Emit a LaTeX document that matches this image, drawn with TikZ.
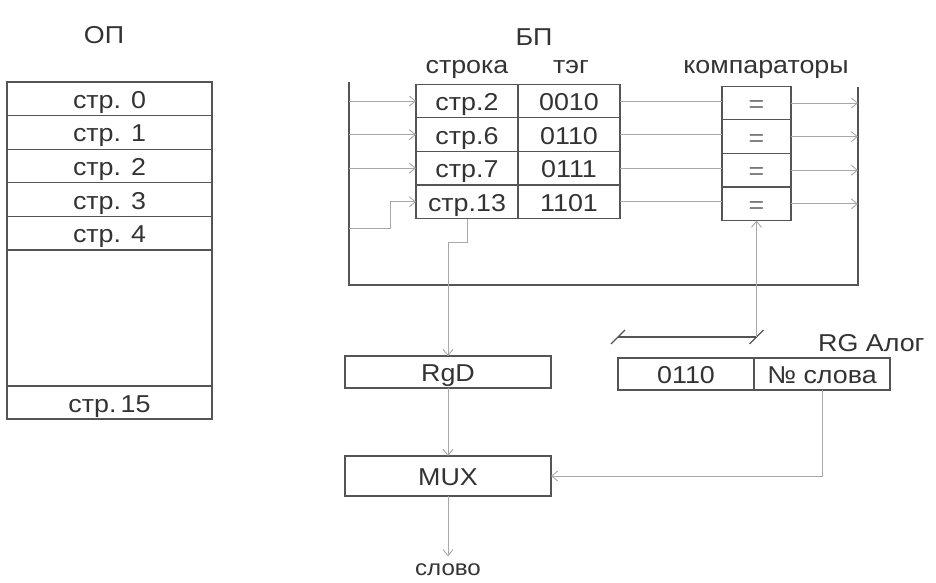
\documentclass[tikz,border=0pt]{standalone}
\usepackage{fontspec}
\setmainfont{Liberation Sans}[FakeStretch=1.1]
\usetikzlibrary{arrows.meta,positioning}
\definecolor{ink}{HTML}{333333}
\definecolor{frame}{HTML}{555555}
\definecolor{wirecol}{HTML}{A8A8A8}

\begin{document}
\begin{tikzpicture}[x=1bp, y=-1bp,
  cell/.style={draw=frame, line width=1.2bp, text=ink, inner sep=0pt, outer sep=0pt, minimum height=33.6bp, text height=19bp, text depth=0bp, font=\fontsize{24.5}{28}\selectfont},
  opcell/.style={cell, minimum width=205bp},
  tabcell/.style={cell, minimum width=102bp},
  cmpcell/.style={cell, minimum width=69bp, text=black!55},
  regbox/.style={cell, minimum height=32bp},
  title/.style={text=ink, inner sep=0pt, text height=19bp, text depth=0bp, font=\fontsize{24.5}{28}\selectfont},
  bus/.style={draw=frame, line width=2.4bp},
  wire/.style={draw=wirecol, line width=0.9bp},
  arr/.style={wire, -{Straight Barb[length=6bp, width=10bp]}}
]
  \useasboundingbox (0,0) rectangle (936,583);

  % main memory
  \node[title] (optitle) at (104,34) {ОП};
  \node[opcell] (op0) at (109.5,98.8) {стр. 0};
  \foreach \i/\j in {1/0,2/1,3/2,4/3}
    \node[opcell, below=0pt of op\j] (op\i) {стр. \i};
  \node[opcell, minimum height=136bp, below=0pt of op4] (opgap) {};
  \node[opcell, minimum height=33bp, below=0pt of opgap] (op15) {стр.\,15};

  % cache: lines and tags
  \node[title] (bptitle) at (534,36) {БП};
  \node[title] (strtitle) at (467,64) {строка};
  \node[title] (tagtitle) at (571,64) {тэг};
  \node[tabcell] (s1) at (467,101) {стр.2};
  \node[tabcell, right=0pt of s1] (t1) {0010};
  \node[tabcell, below=0pt of s1] (s2) {стр.6};
  \node[tabcell, right=0pt of s2] (t2) {0110};
  \node[tabcell, below=0pt of s2] (s3) {стр.7};
  \node[tabcell, right=0pt of s3] (t3) {0111};
  \node[tabcell, below=0pt of s3] (s4) {стр.13};
  \node[tabcell, right=0pt of s4] (t4) {1101};

  % comparators
  \node[title] (cmptitle) at (766,64) {компараторы};
  \node[cmpcell] (c1) at (756.5,103) {=};
  \foreach \i/\j in {2/1,3/2,4/3}
    \node[cmpcell, below=0pt of c\j] (c\i) {=};

  % bus round the cache
  \coordinate (bustop) at (349,82);
  \coordinate (buscorner) at (349,285);
  \coordinate (busend) at (858,285);
  \coordinate (bustopr) at (858,87);
  \draw[bus] (bustop) -- (buscorner) -- (busend) -- (bustopr);

  \foreach \i in {1,2,3}
    \draw[arr] (s\i.west -| bustop) -- (s\i.west);
  \coordinate (jog) at (390,228);
  \draw[arr] (bustop |- jog) -- (jog) |- (s4.west);

  \foreach \i in {1,...,4} {
    \draw[wire] (t\i.east) -- (t\i.east -| c\i.west);
    \draw[arr] (c\i.east) -- (c\i.east -| bustopr);
  }

  % registers
  \node[regbox, minimum width=206bp] (rgd) at (448,372) {RgD};
  \node[regbox, minimum width=136bp] (rtag) at (686,374) {0110};
  \node[regbox, minimum width=136bp, right=0pt of rtag] (rword) {№ слова};
  \node[title, anchor=west] (rgtitle) at (818,342) {RG Алог};

  \coordinate (brl) at (618,337);
  \coordinate (brr) at (756.5,337);
  \draw[frame, line width=1.3bp] (brl) -- (brr);
  \draw[frame, line width=1.3bp] ([shift={(-7,7)}]brl) -- ([shift={(7,-7)}]brl);
  \draw[frame, line width=1.3bp] ([shift={(-7,7)}]brr) -- ([shift={(7,-7)}]brr);
  \draw[arr] (brr) -- (c4.south);

  \draw[arr] (s4.south) -- ++(0,24) -| (rgd.north);

  % multiplexer
  \node[regbox, minimum width=206bp, minimum height=40bp] (mux) at (448,476) {MUX};
  \node[title, font=\fontsize{22}{26}\selectfont] (word) at (448,566) {слово};
  \draw[arr] (rgd) -- (mux);
  \draw[arr] (rword.south) |- (mux.east);
  \draw[arr] (mux) -- (word);
\end{tikzpicture}
\end{document}
